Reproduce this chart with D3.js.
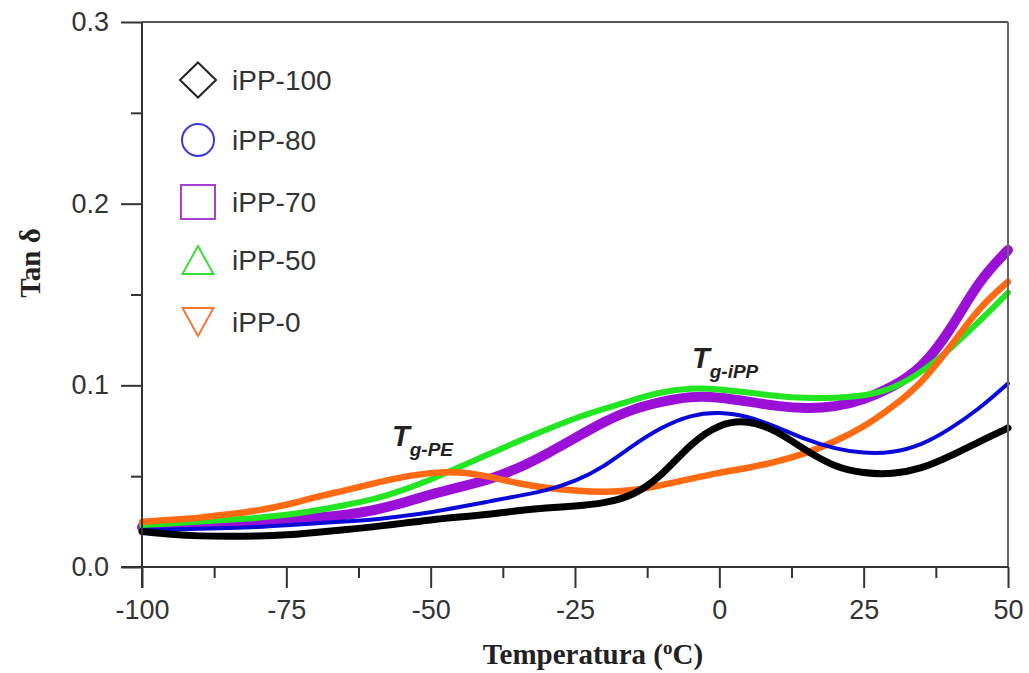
<!DOCTYPE html>
<html>
<head>
<meta charset="utf-8">
<script src="https://cdn.jsdelivr.net/npm/d3@7"></script>
<style>
  body { margin: 0; background: #fff; }
  svg { display: block; }
  .tick text { font-family: "Liberation Sans", Arial, sans-serif; font-size: 27px; fill: #333; }
  .axis-title { font-family: "Liberation Serif", "Times New Roman", serif; font-weight: bold; fill: #222; }
  .legend text { font-family: "Liberation Sans", Arial, sans-serif; font-size: 28px; fill: #333; }
  .note { font-family: "Liberation Sans", Arial, sans-serif; font-weight: bold; font-style: italic; fill: #222; }
</style>
</head>
<body>
<svg width="1029" height="673"></svg>
<script>
// temperatures (°C) shared by all series
const temps = [-100, -95, -90, -85, -80, -75, -70, -65, -60, -55, -50, -45, -40, -35, -30, -25, -20, -15, -10, -5, 0, 5, 10, 15, 20, 25, 30, 35, 40, 45, 50];

// tan delta
const ipp100 = [0.0195, 0.018, 0.017, 0.0168, 0.017, 0.0176, 0.019, 0.0205, 0.022, 0.024, 0.026, 0.0275, 0.029, 0.031, 0.0325, 0.0335, 0.035, 0.039, 0.050, 0.068, 0.079, 0.081, 0.075, 0.064, 0.055, 0.0515, 0.051, 0.054, 0.061, 0.069, 0.0765];
const ipp80  = [0.0204, 0.0207, 0.021, 0.0215, 0.022, 0.023, 0.024, 0.025, 0.026, 0.028, 0.030, 0.033, 0.036, 0.039, 0.042, 0.047, 0.055, 0.067, 0.077, 0.0838, 0.0855, 0.083, 0.077, 0.070, 0.065, 0.0625, 0.0628, 0.067, 0.076, 0.087, 0.101];
const ipp70  = [0.022, 0.023, 0.024, 0.0245, 0.025, 0.026, 0.027, 0.0285, 0.031, 0.035, 0.040, 0.044, 0.048, 0.054, 0.062, 0.071, 0.080, 0.087, 0.091, 0.094, 0.0935, 0.091, 0.0885, 0.0872, 0.088, 0.092, 0.099, 0.109, 0.130, 0.158, 0.1745];
const ipp50  = [0.023, 0.024, 0.025, 0.026, 0.027, 0.0286, 0.031, 0.034, 0.037, 0.042, 0.048, 0.055, 0.062, 0.069, 0.0755, 0.082, 0.087, 0.092, 0.0965, 0.0985, 0.098, 0.096, 0.094, 0.093, 0.093, 0.094, 0.098, 0.107, 0.120, 0.135, 0.151];
const ipp0   = [0.0248, 0.026, 0.027, 0.029, 0.031, 0.034, 0.0385, 0.042, 0.046, 0.0495, 0.052, 0.0525, 0.050, 0.046, 0.0435, 0.042, 0.0412, 0.042, 0.045, 0.0485, 0.052, 0.0545, 0.058, 0.0625, 0.069, 0.077, 0.088, 0.101, 0.121, 0.143, 0.157];

const seriesNames = ["iPP-100", "iPP-80", "iPP-70", "iPP-50", "iPP-0"];
const xTicks = [-100, -75, -50, -25, 0, 25, 50];
const yTicks = [0.0, 0.1, 0.2, 0.3];

const series = [
  { name: "iPP-70", values: ipp70, color: "#9a10d6", width: 10 },
  { name: "iPP-50", values: ipp50, color: "#22e622", width: 6 },
  { name: "iPP-0", values: ipp0, color: "#ff6a12", width: 6.5 },
  { name: "iPP-80", values: ipp80, color: "#0a0ad8", width: 4 },
  { name: "iPP-100", values: ipp100, color: "#000000", width: 7 },
];

const svg = d3.select("svg");
const margin = { left: 142, right: 21, top: 22, bottom: 106 };
const width = 1029, height = 673;

const x = d3.scaleLinear().domain([-100, 50]).range([margin.left, width - margin.right]);
const y = d3.scaleLinear().domain([0, 0.3]).range([height - margin.bottom, margin.top]);

// curves
const line = d3.line()
  .x((d) => x(d[0]))
  .y((d) => y(d[1]))
  .curve(d3.curveBasis);

svg.append("g")
  .attr("class", "curves")
  .selectAll("path")
  .data(series)
  .enter()
  .append("path")
  .attr("d", (s) => line(temps.map((t, i) => [t, s.values[i]])))
  .attr("fill", "none")
  .attr("stroke", (s) => s.color)
  .attr("stroke-width", (s) => s.width)
  .attr("stroke-linecap", "round")
  .attr("stroke-linejoin", "round");

// frame (top and right)
svg.append("line")
  .attr("x1", x(-100)).attr("x2", x(50))
  .attr("y1", y(0.3)).attr("y2", y(0.3))
  .attr("stroke", "#555").attr("stroke-width", 2);
svg.append("line")
  .attr("x1", x(50)).attr("x2", x(50))
  .attr("y1", y(0.3)).attr("y2", y(0))
  .attr("stroke", "#666").attr("stroke-width", 2);

// minor ticks
const xMinor = d3.range(-87.5, 50, 25);
const yMinor = [0.05, 0.15, 0.25];
const fmtX = (d) => String(d);

const xAxis = svg.append("g")
  .attr("transform", `translate(0,${y(0)})`)
  .call(d3.axisBottom(x).tickValues(xTicks).tickFormat(fmtX).tickSize(21).tickPadding(12));
svg.append("g")
  .attr("transform", `translate(0,${y(0)})`)
  .call(d3.axisBottom(x).tickValues(xMinor).tickFormat("").tickSize(11))
  .select(".domain").remove();

const yAxis = svg.append("g")
  .attr("transform", `translate(${x(-100)},0)`)
  .call(d3.axisLeft(y).tickValues(yTicks).tickFormat(d3.format(".1f")).tickSize(21).tickPadding(12));
svg.append("g")
  .attr("transform", `translate(${x(-100)},0)`)
  .call(d3.axisLeft(y).tickValues(yMinor).tickFormat("").tickSize(11))
  .select(".domain").remove();

svg.selectAll(".domain").attr("stroke", "#333").attr("stroke-width", 2);
svg.selectAll(".tick line").attr("stroke", "#333").attr("stroke-width", 2);
xAxis.select(".domain").attr("d", `M${x(-100) - 21},0H${x(50)}`);
yAxis.select(".domain").attr("d", `M0,${y(0.3)}V${y(0) + 21}`);

// axis titles
svg.append("text")
  .attr("class", "axis-title")
  .attr("font-size", 29)
  .attr("x", 593)
  .attr("y", 664)
  .attr("text-anchor", "middle")
  .html('Temperatura (<tspan font-size="19" dy="-10">o</tspan><tspan dy="10">C)</tspan>');

svg.append("text")
  .attr("class", "axis-title")
  .attr("font-size", 29)
  .attr("transform", "translate(40,263) rotate(-90)")
  .attr("text-anchor", "middle")
  .text("Tan δ");

// legend symbols (outline shapes)
function diamond(w, h) { return `M0,${-h / 2}L${w / 2},0L0,${h / 2}L${-w / 2},0Z`; }
function square(s) { return `M${-s / 2},${-s / 2}H${s / 2}V${s / 2}H${-s / 2}Z`; }
function triangle(w, h, up) {
  const k = up ? 1 : -1;
  return `M0,${-k * h / 2}L${w / 2},${k * h / 2}L${-w / 2},${k * h / 2}Z`;
}
const legendY = [80, 140, 202, 260, 322];
const symbols = [
  { d: diamond(36, 35), color: "#222" },
  { d: d3.symbol().type(d3.symbolCircle).size(Math.PI * 16 * 16)(), color: "#3b3bdc" },
  { d: square(34), color: "#a640d4" },
  { d: triangle(31, 28, true), color: "#3cdc3c" },
  { d: triangle(31, 28, false), color: "#f07838" },
];
const legend = svg.append("g").attr("class", "legend");
seriesNames.forEach((name, i) => {
  legend.append("path")
    .attr("d", symbols[i].d)
    .attr("transform", `translate(198,${legendY[i]})`)
    .attr("fill", "none")
    .attr("stroke", symbols[i].color)
    .attr("stroke-width", 2);
  legend.append("text")
    .attr("x", 232)
    .attr("y", legendY[i] + 10)
    .text(name);
});

// annotations
svg.append("text")
  .attr("class", "note")
  .attr("x", 692).attr("y", 368)
  .html('<tspan font-size="29">T</tspan><tspan font-size="19" dy="10">g-iPP</tspan>');
svg.append("text")
  .attr("class", "note")
  .attr("x", 392).attr("y", 446)
  .html('<tspan font-size="29">T</tspan><tspan font-size="19" dy="10">g-PE</tspan>');
</script>
</body>
</html>
